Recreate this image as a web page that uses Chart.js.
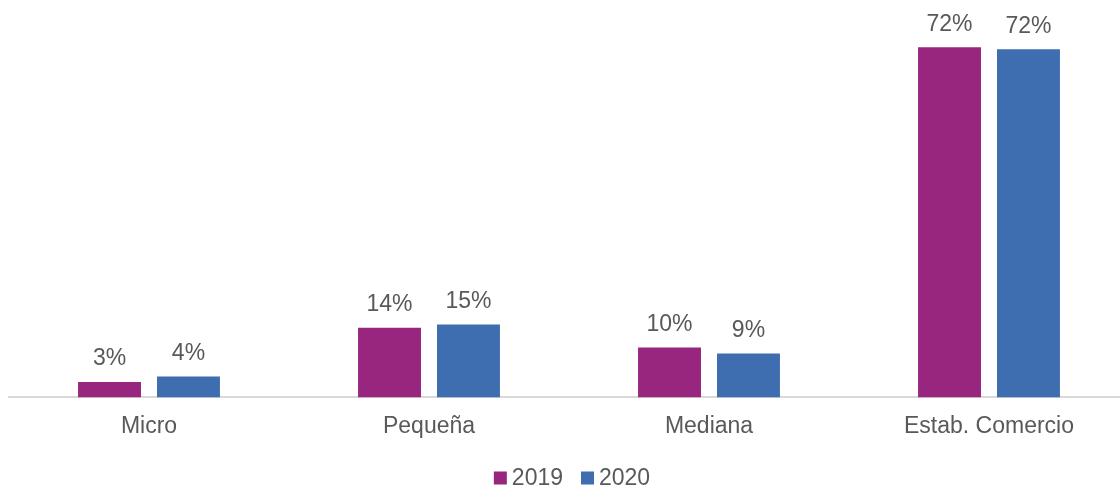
<!DOCTYPE html>
<html>
<head>
<meta charset="utf-8">
<script src="https://cdn.jsdelivr.net/npm/chart.js@4.4.1/dist/chart.umd.min.js"></script>
<style>
  html, body { margin: 0; padding: 0; overflow: hidden; background: #ffffff; }
  #wrap { width: 1130px; height: 492px; }
</style>
</head>
<body>
<div id="wrap"><canvas id="c" width="1130" height="492"></canvas></div>
<script>
const categories = ['Micro', 'Pequeña', 'Mediana', 'Estab. Comercio'];
const seriesNames = ['2019', '2020'];
const values2019 = [3.2, 14.4, 10.3, 72.4];
const values2020 = [4.3, 15.1, 9.1, 72.0];
const seriesColors = ['#98267f', '#3e6db0'];

const TEXT = '#595959';
const FONT = '"Liberation Sans", Arial, sans-serif';

// Percent labels above each bar
const barLabels = {
  id: 'barLabels',
  afterDatasetsDraw(chart) {
    const ctx = chart.ctx;
    ctx.save();
    ctx.font = '23px ' + FONT;
    ctx.fillStyle = TEXT;
    ctx.textAlign = 'center';
    ctx.textBaseline = 'alphabetic';
    chart.data.datasets.forEach((ds, i) => {
      chart.getDatasetMeta(i).data.forEach((bar, j) => {
        ctx.fillText(Math.round(ds.data[j]) + '%', bar.x, bar.y - 16.5);
      });
    });
    ctx.restore();
  }
};

// Compact legend with square swatches, centred under the plot
const squareLegend = {
  id: 'squareLegend',
  afterDraw(chart) {
    const ctx = chart.ctx;
    ctx.save();
    ctx.font = '23px ' + FONT;
    const box = 13, gapText = 5, gapItem = 18;
    const items = chart.data.datasets.map(ds => ({
      text: ds.label, color: ds.backgroundColor, w: ctx.measureText(ds.label).width
    }));
    let total = 0;
    items.forEach((it, k) => { total += box + gapText + it.w + (k ? gapItem : 0); });
    const area = chart.chartArea;
    let x = (area.left + area.right) / 2 + 3 - total / 2;
    const yMid = 478;
    ctx.textBaseline = 'middle';
    ctx.textAlign = 'left';
    items.forEach(it => {
      ctx.fillStyle = it.color;
      ctx.fillRect(x, yMid - box / 2, box, box);
      x += box + gapText;
      ctx.fillStyle = TEXT;
      ctx.fillText(it.text, x, yMid + 1);
      x += it.w + gapItem;
    });
    ctx.restore();
  }
};

new Chart(document.getElementById('c'), {
  type: 'bar',
  data: {
    labels: categories,
    datasets: [
      { label: seriesNames[0], data: values2019, backgroundColor: seriesColors[0] },
      { label: seriesNames[1], data: values2020, backgroundColor: seriesColors[1] }
    ]
  },
  options: {
    responsive: false,
    animation: false,
    layout: { padding: { left: 9, right: 1, top: 10.6, bottom: 37 } },
    datasets: { bar: { categoryPercentage: 0.564, barPercentage: 0.797 } },
    plugins: { legend: { display: false }, tooltip: { enabled: false } },
    scales: {
      x: {
        grid: { display: false, drawTicks: false },
        border: { display: true, color: '#d9d9d9', width: 2 },
        ticks: { color: TEXT, font: { size: 23, family: FONT }, padding: 15, maxRotation: 0 }
      },
      y: { display: false, min: 0, max: 80 }
    }
  },
  plugins: [barLabels, squareLegend]
});
</script>
</body>
</html>
